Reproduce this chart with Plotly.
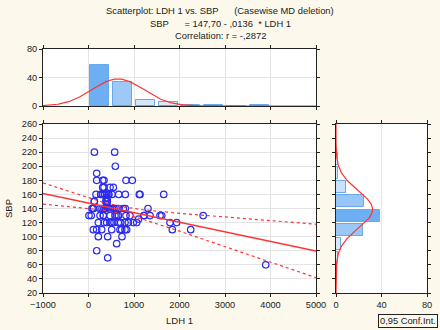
import numpy as np
import plotly.graph_objects as go

# ---- data ----
ldh = [130, 575, 590, 180,
       180, 312, 341, 824, 963,
       312, 341, 473, 546,
       165, 268, 312, 356, 400, 444, 516, 664, 809, 1117, 1132, 1653,
       312, 356, 400, 444,
       128, 385, 413, 400, 400, 128, 400, 385, 413,
       77, 106, 253, 297, 341, 385, 429, 473, 516, 560, 604, 663, 765, 809, 1308,
       341, 385, 429, 473, 106,
       10, 60, 253, 326, 473, 582, 619, 656, 824, 912, 1220, 1352, 1572, 1609, 2520,
       326, 1220, 656,
       1100,
       216, 341, 400, 473, 509, 560, 656, 707, 802, 875, 985, 1059, 1791, 1938,
       106, 180, 290, 509, 692, 729, 802, 839, 1842, 2246,
       216, 422, 736,
       619, 180, 422, 3895]
sbp = [220, 220, 200, 190,
       180, 180, 180, 180, 180,
       170, 170, 170, 170,
       160, 160, 160, 160, 160, 160, 160, 160, 160, 160, 160, 160,
       160, 160, 160, 160,
       150, 150, 150, 155, 145, 150, 155, 150, 150,
       140, 140, 140, 140, 140, 140, 140, 140, 140, 140, 140, 140, 140, 140, 140,
       140, 140, 140, 140, 140,
       130, 130, 130, 130, 130, 130, 130, 130, 130, 130, 130, 130, 130, 130, 130,
       130, 130, 130,
       125,
       120, 120, 120, 120, 120, 120, 120, 120, 120, 120, 120, 120, 120, 120,
       110, 110, 110, 110, 110, 110, 110, 110, 110, 110,
       100, 100, 100,
       90, 80, 70, 60]

ldh_bin_centers = [250, 750, 1250, 1750, 2250, 2750, 3250, 3750]
ldh_counts = [57, 34, 8, 6, 1, 1, 0, 1]
sbp_bin_centers = [50, 70, 90, 110, 130, 150, 170, 190, 210]
sbp_counts = [1, 2, 4, 24, 39, 25, 9, 2, 2]

intercept = 147.70
slope = -0.0136
t_crit = 1.9826  # t(0.975, df=n-2)

title_lines = ["Scatterplot: LDH 1 vs. SBP\u00a0\u00a0\u00a0\u00a0\u00a0\u00a0(Casewise MD deletion)",
               "SBP\u00a0\u00a0\u00a0\u00a0\u00a0\u00a0= 147,70 - ,0136\u00a0\u00a0* LDH 1",
               "Correlation: r = -,2872"]

# ---- derived ----
x = np.array(ldh, float)
y = np.array(sbp, float)
n = len(x)
xbar = x.mean()
sxx = ((x - xbar) ** 2).sum()
resid = y - (intercept + slope * x)
s = np.sqrt((resid ** 2).sum() / (n - 2))

xg = np.linspace(-1000, 5000, 200)
yfit = intercept + slope * xg
half = t_crit * s * np.sqrt(1 / n + (xg - xbar) ** 2 / sxx)

ntot = sum(ldh_counts)
mx, sdx = x.mean(), x.std(ddof=1)
my, sdy = y.mean(), y.std(ddof=1)
xn = np.linspace(-1000, 5000, 300)
norm_x = ntot * 500 / (sdx * np.sqrt(2 * np.pi)) * np.exp(-0.5 * ((xn - mx) / sdx) ** 2)
yn = np.linspace(20, 260, 300)
norm_y = sum(sbp_counts) * 20 / (sdy * np.sqrt(2 * np.pi)) * np.exp(-0.5 * ((yn - my) / sdy) ** 2)

W, H = 440, 330
def px(v): return v / W
def py(v): return 1 - v / H

RED = "#ff3333"
BLUE = "#2b2bf2"
font = "Liberation Sans, Arial, sans-serif"

fig = go.Figure()
# top histogram
fig.add_trace(go.Bar(x=ldh_bin_centers, y=ldh_counts, width=420, xaxis="x2", yaxis="y2",
                     marker=dict(color=ldh_counts, colorscale=[[0, "#e4f0fd"], [1, "#6eaef2"]],
                                 cmin=0, cmax=max(ldh_counts),
                                 line=dict(color="#6aa8ee", width=1))))
fig.add_trace(go.Scatter(x=xn, y=norm_x, mode="lines", xaxis="x2", yaxis="y2",
                         line=dict(color=RED, width=1.2)))
# right histogram
fig.add_trace(go.Bar(y=sbp_bin_centers, x=sbp_counts, width=17, orientation="h", xaxis="x3", yaxis="y3",
                     marker=dict(color=sbp_counts, colorscale=[[0, "#e4f0fd"], [1, "#6eaef2"]],
                                 cmin=0, cmax=max(sbp_counts),
                                 line=dict(color="#6aa8ee", width=1))))
fig.add_trace(go.Scatter(x=norm_y, y=yn, mode="lines", xaxis="x3", yaxis="y3",
                         line=dict(color=RED, width=1.2)))
# main scatter
fig.add_trace(go.Scatter(x=ldh, y=sbp, mode="markers",
                         marker=dict(symbol="circle-open", size=6.5, color=BLUE, line=dict(width=1.2, color=BLUE))))
fig.add_trace(go.Scatter(x=xg, y=yfit, mode="lines", line=dict(color=RED, width=1.4)))
fig.add_trace(go.Scatter(x=xg, y=yfit + half, mode="lines", line=dict(color=RED, width=1.2, dash="dot")))
fig.add_trace(go.Scatter(x=xg, y=yfit - half, mode="lines", line=dict(color=RED, width=1.2, dash="dot")))

ax = dict(showline=True, linecolor="#222222", linewidth=1, mirror="ticks", ticks="outside",
          ticklen=3, tickcolor="#222222", gridcolor="#e4e4e4", gridwidth=1, zeroline=False,
          automargin=False, tickfont=dict(size=9.2, color="#222222", family=font))

fig.update_layout(
    width=W, height=H, margin=dict(l=0, r=0, t=0, b=0, autoexpand=False),
    paper_bgcolor="#fcf8ec", plot_bgcolor="#ffffff", showlegend=False,
    font=dict(family=font, size=9.2, color="#222222"),
    xaxis=dict(ax, domain=[px(43), px(316)], range=[-1000, 5000], dtick=1000, anchor="y",
               title=dict(text="LDH 1", standoff=8, font=dict(size=9.5))),
    yaxis=dict(ax, domain=[py(293), py(124)], range=[20, 260], dtick=20, anchor="x",
               title=dict(text="SBP", standoff=7, font=dict(size=9.5))),
    xaxis2=dict(ax, domain=[px(43), px(316)], range=[-1000, 5000], dtick=1000, anchor="y2",
                showticklabels=False),
    yaxis2=dict(ax, domain=[py(106), py(49)], range=[0, 80], tickvals=[0, 40, 80], anchor="x2"),
    xaxis3=dict(ax, domain=[px(336), px(427)], range=[0, 80], tickvals=[0, 40, 80], anchor="y3"),
    yaxis3=dict(ax, domain=[py(293), py(124)], range=[20, 260], dtick=20, anchor="x3",
                showticklabels=False, showgrid=False),
    bargap=0,
)

for i, (txt, yy) in enumerate(zip(title_lines, [11, 23.5, 35.5])):
    fig.add_annotation(text=txt, x=px(220), y=py(yy), xref="paper", yref="paper",
                       showarrow=False, xanchor="center", yanchor="middle",
                       font=dict(size=9.4, family=font, color="#222222"))

fig.add_annotation(text="0,95 Conf.Int.", x=px(408), y=py(320.5), xref="paper", yref="paper",
                   showarrow=False, xanchor="center", yanchor="middle",
                   bordercolor="#222222", borderwidth=1, borderpad=1,
                   font=dict(size=9.3, family=font, color="#222222"))

fig.write_html("out.html", config={"displayModeBar": False},
               post_script="document.body.style.margin='0';document.body.style.overflow='hidden';")
